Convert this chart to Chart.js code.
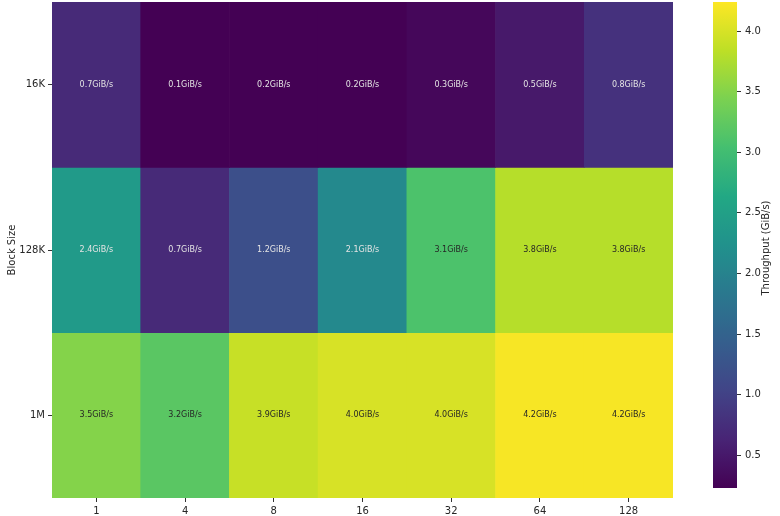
<!DOCTYPE html>
<html>
<head>
<meta charset="utf-8">
<script src="https://cdn.jsdelivr.net/npm/chart.js@4.4.1/dist/chart.umd.min.js"></script>
<style>
  body { margin: 0; background: #fff; }
  #wrap { position: relative; width: 780px; height: 516px; }
  #heat { position: absolute; left: 0; top: 0; }
  #bar { position: absolute; left: 690px; top: 0; }
</style>
</head>
<body>
<div id="wrap">
  <canvas id="heat" width="690" height="516"></canvas>
  <canvas id="bar" width="90" height="516"></canvas>
</div>
<script>
'use strict';

// data
const threads = ['1', '4', '8', '16', '32', '64', '128'];
const blockSizes = ['16K', '128K', '1M'];
const row16K = [0.7, 0.1, 0.2, 0.2, 0.3, 0.5, 0.8];
const row128K = [2.4, 0.7, 1.2, 2.1, 3.1, 3.8, 3.8];
const row1M = [3.5, 3.2, 3.9, 4.0, 4.0, 4.2, 4.2];
const colorTicks = [0.5, 1.0, 1.5, 2.0, 2.5, 3.0, 3.5, 4.0];
const vmin = 0.23;
const vmax = 4.24;

const rows = [row16K, row128K, row1M];

// viridis stops
const viridis = ['#440154', '#482475', '#414487', '#355f8d', '#2a788e',
  '#21918c', '#22a884', '#44bf70', '#7ad151', '#bddf26', '#fde725'];

function hexRgb(h) {
  return [parseInt(h.substr(1, 2), 16), parseInt(h.substr(3, 2), 16), parseInt(h.substr(5, 2), 16)];
}

function viridisRgb(v) {
  let t = (v - vmin) / (vmax - vmin);
  t = Math.max(0, Math.min(1, t));
  const p = t * (viridis.length - 1);
  const i = Math.min(Math.floor(p), viridis.length - 2);
  const f = p - i;
  const a = hexRgb(viridis[i]), b = hexRgb(viridis[i + 1]);
  return a.map((c, k) => Math.round(c + (b[k] - c) * f));
}

function rgbStr(c) {
  return 'rgb(' + c.join(',') + ')';
}

function luminance(c) {
  const l = c.map(x => {
    x = x / 255;
    return x <= 0.03928 ? x / 12.92 : Math.pow((x + 0.055) / 1.055, 2.4);
  });
  return 0.2126 * l[0] + 0.7152 * l[1] + 0.0722 * l[2];
}

const font = 'DejaVu Sans';

function noPad(s) {
  s.paddingTop = 0;
  s.paddingBottom = 0;
}

let datasets = rows.map(function(vals, i) {
  return {
    label: blockSizes[i],
    data: vals.map(() => [i, i + 1]),
    values: vals,
    backgroundColor: vals.map(v => rgbStr(viridisRgb(v))),
    borderWidth: 0,
    borderSkipped: false,
    barPercentage: 1.0,
    categoryPercentage: 1.0
  };
});

// writes the value in each cell
const cellText = {
  id: 'cellText',
  afterDatasetsDraw(chart) {
    const ctx = chart.ctx;
    ctx.save();
    ctx.font = '8px "' + font + '"';
    ctx.textAlign = 'center';
    ctx.textBaseline = 'middle';
    chart.data.datasets.forEach(function(ds, i) {
      const meta = chart.getDatasetMeta(i);
      meta.data.forEach(function(el, j) {
        const v = ds.values[j];
        ctx.fillStyle = luminance(viridisRgb(v)) > 0.408 ? '#262626' : '#e4e4e4';
        ctx.fillText(v.toFixed(1) + 'GiB/s', el.x, (el.y + el.base) / 2);
      });
    });
    ctx.restore();
  }
};

new Chart(document.getElementById('heat'), {
  type: 'bar',
  data: { labels: threads, datasets: datasets },
  options: {
    responsive: false,
    animation: false,
    events: [],
    layout: { padding: { left: 0, right: 17, top: 2, bottom: 0 } },
    plugins: { legend: { display: false }, tooltip: { enabled: false } },
    scales: {
      x: {
        stacked: true,
        afterFit: function(s) { s.height = 18; },
        border: { display: false },
        grid: { offset: false, drawOnChartArea: false, tickLength: 4, color: '#333' },
        ticks: { color: '#262626', padding: 3, font: { family: font, size: 10 } }
      },
      y: {
        type: 'linear',
        min: 0,
        max: 3,
        reverse: true,
        afterFit: function(s) { s.width = 52; noPad(s); },
        afterBuildTicks: function(s) {
          s.ticks = blockSizes.map((b, i) => ({ value: i + 0.5 }));
        },
        border: { display: false },
        grid: { drawOnChartArea: false, tickLength: 4, color: '#333' },
        ticks: {
          color: '#262626',
          padding: 3,
          font: { family: font, size: 10 },
          callback: function(v) { return blockSizes[Math.floor(v)]; }
        },
        title: {
          display: true,
          text: 'Block Size',
          color: '#262626',
          padding: { top: 6, bottom: 4 },
          font: { family: font, size: 10 }
        }
      }
    }
  },
  plugins: [cellText]
});

// colour bar title, read bottom to top
const barTitle = {
  id: 'barTitle',
  afterDraw(chart) {
    const a = chart.chartArea;
    const ctx = chart.ctx;
    ctx.save();
    ctx.translate(76, (a.top + a.bottom) / 2 + 3);
    ctx.rotate(-Math.PI / 2);
    ctx.font = '10px "' + font + '"';
    ctx.fillStyle = '#262626';
    ctx.textAlign = 'center';
    ctx.textBaseline = 'middle';
    ctx.fillText('Throughput (GiB/s)', 0, 0);
    ctx.restore();
  }
};

new Chart(document.getElementById('bar'), {
  type: 'bar',
  data: {
    labels: [''],
    datasets: [{
      data: [[vmin, vmax]],
      borderWidth: 0,
      borderSkipped: false,
      barPercentage: 1.0,
      categoryPercentage: 1.0,
      backgroundColor: function(c) {
        const a = c.chart.chartArea;
        if (!a) return '#440154';
        const g = c.chart.ctx.createLinearGradient(0, a.bottom, 0, a.top);
        for (let k = 0; k <= 40; k++) {
          const v = vmin + (vmax - vmin) * k / 40;
          g.addColorStop(k / 40, rgbStr(viridisRgb(v)));
        }
        return g;
      }
    }]
  },
  options: {
    responsive: false,
    animation: false,
    events: [],
    layout: { padding: { left: 23, right: 0, top: 2, bottom: 28 } },
    plugins: { legend: { display: false }, tooltip: { enabled: false } },
    scales: {
      x: { display: false },
      y: {
        type: 'linear',
        position: 'right',
        min: vmin,
        max: vmax,
        afterFit: function(s) { s.width = 43; noPad(s); },
        afterBuildTicks: function(s) {
          s.ticks = colorTicks.map(v => ({ value: v }));
        },
        border: { display: false },
        grid: { drawOnChartArea: false, tickLength: 4, color: '#333' },
        ticks: {
          color: '#262626',
          padding: 4,
          font: { family: font, size: 10 },
          callback: function(v) { return v.toFixed(1); }
        }
      }
    }
  },
  plugins: [barTitle]
});
</script>
</body>
</html>
